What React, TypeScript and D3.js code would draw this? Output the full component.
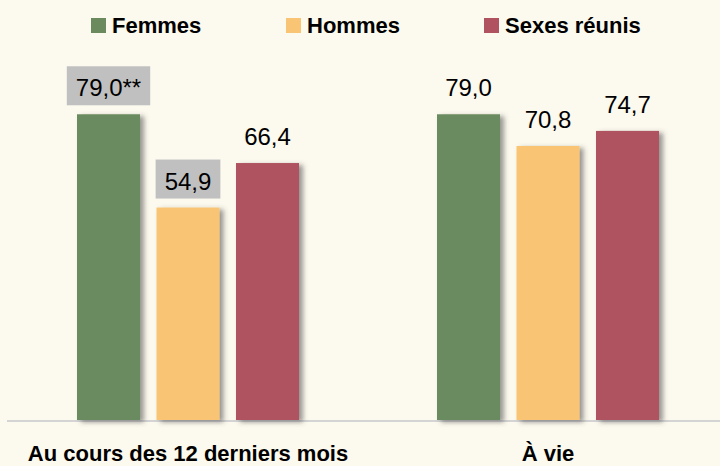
import React, { useEffect, useRef } from 'react';
import * as d3 from 'd3';

const categories = ['Au cours des 12 derniers mois', 'À vie'];
const series = ['Femmes', 'Hommes', 'Sexes réunis'];
const colors = ['#6b8a5e', '#f9c574', '#b05260'];
const values = [
  [79.0, 54.9, 66.4],
  [79.0, 70.8, 74.7],
];
const notes = [
  ['**', '', ''],
  ['', '', ''],
];
const highlighted = [
  [true, true, false],
  [false, false, false],
];
const legendX = [91, 286, 484];

const W = 720;
const H = 466;

const App = () => {
  const ref = useRef<HTMLDivElement>(null);

  useEffect(() => {
    if (!ref.current) return;
    d3.select(ref.current).selectAll('*').remove();
    const svg = d3
      .select(ref.current)
      .append('svg')
      .attr('width', W)
      .attr('height', H)
      .style('display', 'block');

    const defs = svg.append('defs');
    defs
      .append('filter')
      .attr('id', 'shadow')
      .attr('x', '-20%')
      .attr('y', '-20%')
      .attr('width', '150%')
      .attr('height', '140%')
      .append('feDropShadow')
      .attr('dx', 4)
      .attr('dy', 2)
      .attr('stdDeviation', 2.5)
      .attr('flood-color', '#444')
      .attr('flood-opacity', 0.55);

    svg.append('rect').attr('width', W).attr('height', H).attr('fill', '#fcf9ee');

    const x0 = d3.scaleBand().domain(categories).range([8, 728]);
    const x1 = d3
      .scaleBand()
      .domain(series)
      .range([0, x0.bandwidth()])
      .paddingInner(0.2075)
      .paddingOuter(0.868);
    const y = d3.scaleLinear().domain([0, 100]).range([420, 33]);

    const font = "'Liberation Sans', Arial, sans-serif";

    // legend
    const legend = svg
      .selectAll('.legend')
      .data(series)
      .join('g')
      .attr('class', 'legend')
      .attr('transform', (d, i) => `translate(${legendX[i]}, 18)`);
    legend
      .append('rect')
      .attr('width', 15)
      .attr('height', 15)
      .attr('fill', (d, i) => colors[i]);
    legend
      .append('text')
      .attr('x', 21)
      .attr('y', 15)
      .style('font-family', font)
      .style('font-size', '22px')
      .style('font-weight', 'bold')
      .attr('fill', '#000')
      .text(d => d);

    // axis line
    svg
      .append('line')
      .attr('x1', 7)
      .attr('x2', W)
      .attr('y1', y(0) + 1)
      .attr('y2', y(0) + 1)
      .attr('stroke', '#d4d4d4')
      .attr('stroke-width', 2);

    const groups = svg
      .selectAll('.group')
      .data(categories)
      .join('g')
      .attr('class', 'group')
      .attr('transform', d => `translate(${x0(d)}, 0)`);

    groups.each(function (cat, ci) {
      const g = d3.select(this);
      series.forEach((s, si) => {
        const v = values[ci][si];
        const bx = x1(s)!;
        const bw = x1.bandwidth();
        g.append('rect')
          .attr('x', bx)
          .attr('y', y(v))
          .attr('width', bw)
          .attr('height', y(0) - y(v))
          .attr('fill', colors[si])
          .attr('filter', 'url(#shadow)');

        const label = v.toFixed(1).replace('.', ',') + notes[ci][si];
        const cx = bx + bw / 2;
        const t = g
          .append('text')
          .attr('x', cx)
          .attr('y', y(v) - 18)
          .attr('text-anchor', 'middle')
          .style('font-family', font)
          .style('font-size', '24px')
          .attr('fill', '#000')
          .text(label);
        if (highlighted[ci][si]) {
          const tw = (t.node() as SVGTextElement).getComputedTextLength();
          g.insert('rect', 'text')
            .attr('x', cx - tw / 2 - 9)
            .attr('y', y(v) - 48)
            .attr('width', tw + 18)
            .attr('height', 39)
            .attr('fill', '#c0c0c0');
          t.raise();
        }
      });
      g.append('text')
        .attr('x', x0.bandwidth() / 2)
        .attr('y', 461)
        .attr('text-anchor', 'middle')
        .style('font-family', font)
        .style('font-size', '22px')
        .style('font-weight', 'bold')
        .attr('fill', '#000')
        .text(cat);
    });
  }, []);

  return <div ref={ref} style={{ position: 'fixed', left: 0, top: 0 }}></div>;
};

export default App;
